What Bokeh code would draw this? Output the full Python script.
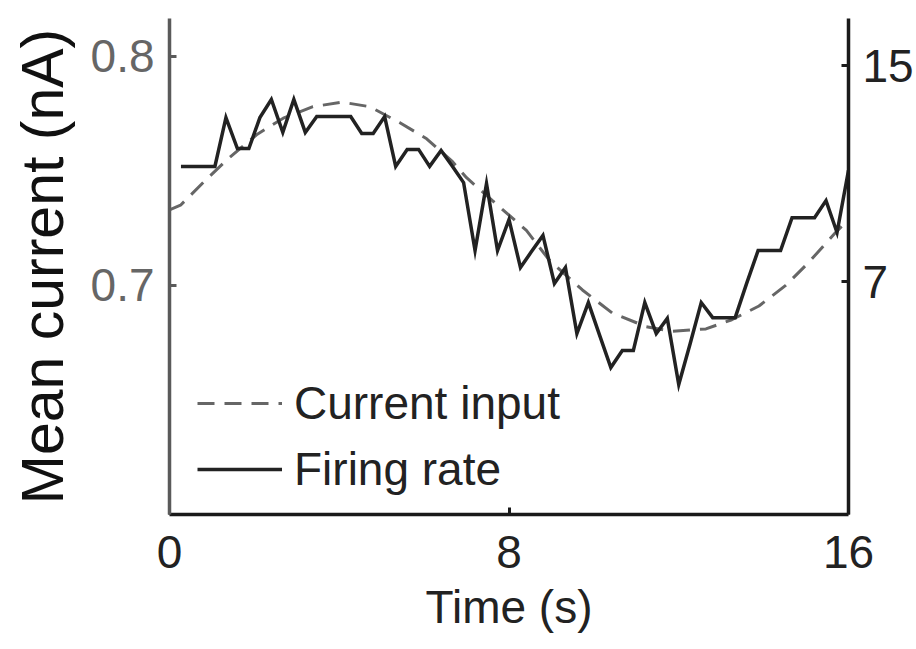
from bokeh.plotting import figure
from bokeh.models import Range1d, LinearAxis, FixedTicker, Legend, LegendItem
from bokeh.embed import file_html
from bokeh.resources import INLINE

# ---- data ----
input_time = [0.0, 0.26, 0.8, 1.36, 2.07, 2.68, 3.38, 4.06, 4.72, 5.43, 6.06, 6.67,
              7.0, 7.61, 8.41, 8.95, 9.73, 10.43, 11.23, 11.84, 12.64, 13.25, 13.89,
              14.52, 15.06, 15.69, 15.85]
input_current = [0.733, 0.735, 0.745, 0.755, 0.766, 0.773, 0.778, 0.780, 0.778, 0.771,
                 0.764, 0.754, 0.747, 0.737, 0.724, 0.711, 0.698, 0.688, 0.682, 0.680,
                 0.681, 0.685, 0.691, 0.700, 0.710, 0.723, 0.726]

rate_time = [0.27, 0.53, 0.80, 1.07, 1.33, 1.60, 1.87, 2.13, 2.40, 2.67, 2.93, 3.20,
             3.47, 3.73, 4.00, 4.27, 4.53, 4.80, 5.07, 5.33, 5.60, 5.87, 6.13, 6.40,
             6.67, 6.93, 7.20, 7.47, 7.73, 8.00, 8.27, 8.53, 8.80, 9.07, 9.33, 9.60,
             9.87, 10.13, 10.40, 10.67, 10.93, 11.20, 11.47, 11.73, 12.00, 12.27, 12.53,
             12.80, 13.07, 13.33, 13.60, 13.87, 14.13, 14.40, 14.67, 14.93, 15.20, 15.47,
             15.73, 16.00]
firing_rate = [11.27, 11.27, 11.27, 11.27, 13.08, 11.93, 11.93, 13.08, 13.75, 12.53,
               13.75, 12.53, 13.12, 13.12, 13.12, 13.12, 12.49, 12.49, 13.12, 11.27,
               11.90, 11.90, 11.27, 11.86, 11.27, 10.67, 8.15, 10.63, 8.15, 9.30,
               7.52, 8.11, 8.71, 6.93, 7.52, 5.07, 6.22, 5.03, 3.81, 4.44,
               4.44, 6.22, 5.07, 5.63, 3.18, 4.70, 6.22, 5.66, 5.66, 5.66,
               6.93, 8.15, 8.15, 8.15, 9.37, 9.37, 9.37, 10.00, 8.82, 11.12]

x_ticks = [0, 8, 16]
left_ticks = [0.7, 0.8]
right_ticks = [7, 15]

FONT = "Liberation Sans"

p = figure(width=916, height=649, output_backend="svg", toolbar_location=None,
           x_range=Range1d(0, 16), y_range=Range1d(0.6, 0.8165),
           min_border_left=169, min_border_right=66, min_border_top=18,
           min_border_bottom=135, y_axis_location="left")
p.extra_y_ranges = {"rate": Range1d(-1.64, 16.755)}
p.outline_line_color = None
p.grid.visible = False
p.background_fill_color = "white"
p.border_fill_color = "white"

r1 = p.line(input_time, input_current, line_color="#666666", line_width=3,
            line_dash="17 10")
r2 = p.line(rate_time, firing_rate, y_range_name="rate", line_color="#222222",
            line_width=3.5, line_join="miter")

# x axis
xa = p.xaxis[0]
xa.ticker = FixedTicker(ticks=x_ticks)
xa.axis_label = "Time (s)"
xa.axis_line_color = "#1a1a1a"
xa.axis_line_width = 3.5
xa.major_tick_line_color = "#1a1a1a"
xa.major_tick_line_width = 3
xa.major_tick_in = 7
xa.major_tick_out = 0
xa.minor_tick_line_color = None
xa.major_label_text_font = FONT
xa.major_label_text_font_size = "46px"
xa.major_label_text_color = "#222222"
xa.major_label_standoff = 21
xa.axis_label_text_font = FONT
xa.axis_label_text_font_size = "46px"
xa.axis_label_text_font_style = "normal"
xa.axis_label_text_color = "#222222"
xa.axis_label_standoff = 10

# left axis
ya = p.yaxis[0]
ya.ticker = FixedTicker(ticks=left_ticks)
ya.axis_label = "Mean current (nA)"
ya.axis_line_color = "#5a5a5a"
ya.axis_line_width = 3.5
ya.major_tick_line_color = "#5a5a5a"
ya.major_tick_line_width = 3
ya.major_tick_in = 7
ya.major_tick_out = 0
ya.minor_tick_line_color = None
ya.major_label_text_font = FONT
ya.major_label_text_font_size = "46px"
ya.major_label_text_color = "#666666"
ya.major_label_standoff = 15
ya.axis_label_text_font = FONT
ya.axis_label_text_font_size = "59px"
ya.axis_label_text_font_style = "normal"
ya.axis_label_text_color = "#111111"
ya.axis_label_standoff = 12

# right axis
ra = LinearAxis(y_range_name="rate", ticker=FixedTicker(ticks=right_ticks))
ra.axis_line_color = "#1a1a1a"
ra.axis_line_width = 3.5
ra.major_tick_line_color = "#1a1a1a"
ra.major_tick_line_width = 3
ra.major_tick_in = 7
ra.major_tick_out = 0
ra.minor_tick_line_color = None
ra.major_label_text_font = FONT
ra.major_label_text_font_size = "46px"
ra.major_label_text_color = "#222222"
ra.major_label_standoff = 14
p.add_layout(ra, "right")

legend = Legend(items=[LegendItem(label="Current input", renderers=[r1]),
                       LegendItem(label="Firing rate", renderers=[r2])],
                location=(28, 18), orientation="vertical",
                glyph_width=85, glyph_height=50, label_height=50,
                label_standoff=12, spacing=12, padding=0, margin=0,
                border_line_color=None, background_fill_alpha=0,
                label_text_font=FONT, label_text_font_size="46px",
                label_text_color="#222222")
p.add_layout(legend)

open("out.html", "w").write(file_html(p, INLINE))
